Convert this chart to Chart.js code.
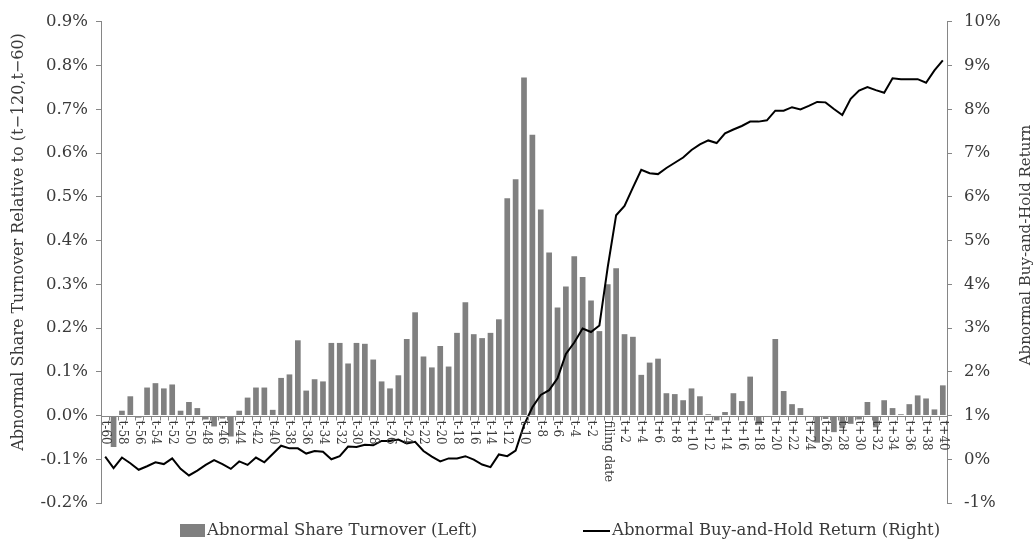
<!DOCTYPE html>
<html>
<head>
<meta charset="utf-8">
<script src="https://cdn.jsdelivr.net/npm/chart.js@4.4.0/dist/chart.umd.min.js"></script>
<style>
html, body { margin: 0; padding: 0; background: #fff; }
</style>
</head>
<body>
<canvas id="turnoverChart" width="1034" height="546"></canvas>
<script>
// days relative to filing date
const categories = [
  't-60','t-59','t-58','t-57','t-56','t-55','t-54','t-53','t-52','t-51',
  't-50','t-49','t-48','t-47','t-46','t-45','t-44','t-43','t-42','t-41',
  't-40','t-39','t-38','t-37','t-36','t-35','t-34','t-33','t-32','t-31',
  't-30','t-29','t-28','t-27','t-26','t-25','t-24','t-23','t-22','t-21',
  't-20','t-19','t-18','t-17','t-16','t-15','t-14','t-13','t-12','t-11',
  't-10','t-9','t-8','t-7','t-6','t-5','t-4','t-3','t-2','t-1',
  'filing date',
  't+1','t+2','t+3','t+4','t+5','t+6','t+7','t+8','t+9','t+10',
  't+11','t+12','t+13','t+14','t+15','t+16','t+17','t+18','t+19','t+20',
  't+21','t+22','t+23','t+24','t+25','t+26','t+27','t+28','t+29','t+30',
  't+31','t+32','t+33','t+34','t+35','t+36','t+37','t+38','t+39','t+40'
];

// abnormal share turnover, % (left axis)
const turnover = [
  0.000, -0.072, 0.011, 0.044, -0.005, 0.064, 0.074, 0.062, 0.071, 0.011,
  0.031, 0.017, -0.009, -0.025, -0.007, -0.048, 0.011, 0.041, 0.064, 0.064,
  0.013, 0.086, 0.094, 0.172, 0.057, 0.083, 0.078, 0.166, 0.166, 0.119,
  0.166, 0.164, 0.128, 0.078, 0.062, 0.092, 0.175, 0.236, 0.135, 0.110,
  0.159, 0.112, 0.189, 0.259, 0.186, 0.177, 0.189, 0.220, 0.497, 0.540,
  0.773, 0.642, 0.471, 0.373, 0.247, 0.295, 0.364, 0.317, 0.263, 0.193,
  0.300,
  0.337, 0.186, 0.180, 0.093, 0.121, 0.130, 0.051, 0.049, 0.035, 0.062,
  0.044, 0.003, -0.011, 0.008, 0.051, 0.033, 0.089, -0.021, 0.000, 0.175,
  0.056, 0.026, 0.017, 0.000, -0.062, -0.008, -0.038, -0.029, -0.019, -0.009,
  0.031, -0.027, 0.035, 0.017, 0.003, 0.026, 0.046, 0.039, 0.014, 0.069
];

// abnormal buy-and-hold return, % (right axis)
const bhReturn = [
  0.06, -0.20, 0.04, -0.09, -0.24, -0.16, -0.07, -0.11, 0.02, -0.22,
  -0.37, -0.26, -0.13, -0.02, -0.11, -0.22, -0.05, -0.13, 0.04, -0.07,
  0.12, 0.31, 0.25, 0.25, 0.13, 0.19, 0.17, 0.00, 0.07, 0.29,
  0.28, 0.33, 0.32, 0.42, 0.42, 0.45, 0.36, 0.40, 0.19, 0.06,
  -0.05, 0.02, 0.02, 0.07, -0.01, -0.12, -0.18, 0.11, 0.07, 0.20,
  0.78, 1.19, 1.47, 1.58, 1.85, 2.41, 2.67, 2.99, 2.91, 3.06,
  4.40,
  5.58, 5.79, 6.21, 6.62, 6.54, 6.52, 6.66, 6.78, 6.90, 7.07,
  7.20, 7.29, 7.23, 7.45, 7.54, 7.62, 7.72, 7.72, 7.75, 7.97,
  7.97, 8.05, 8.00, 8.08, 8.17, 8.16, 8.01, 7.87, 8.24, 8.43,
  8.51, 8.44, 8.38, 8.71, 8.69, 8.69, 8.69, 8.61, 8.89, 9.12
];

const seriesNames = ['Abnormal Share Turnover (Left)', 'Abnormal Buy-and-Hold Return (Right)'];
const leftTitle = 'Abnormal Share Turnover Relative to (t\u2212120,t\u221260)';
const rightTitle = 'Abnormal Buy-and-Hold Return';

const FONT = "'DejaVu Serif', 'Liberation Serif', serif";
const TEXT = '#3a3a3a';
const AXIS = '#868686';
const BAR = '#808080';

// x axis sits on the 0% line, labels read top-to-bottom, titles + legend drawn by hand
const extras = {
  id: 'extras',
  afterDraw(chart) {
    const { ctx, chartArea, scales } = chart;
    const x = scales.x;
    const y0 = Math.round(scales.yLeft.getPixelForValue(0)) + 0.5;
    const step = x.getPixelForValue(1) - x.getPixelForValue(0);

    ctx.save();
    ctx.strokeStyle = AXIS;
    ctx.lineWidth = 1;
    ctx.beginPath();
    ctx.moveTo(chartArea.left, y0);
    ctx.lineTo(chartArea.right, y0);
    for (let i = 0; i <= categories.length; i++) {
      const px = Math.round(x.getPixelForValue(0) - step / 2 + i * step) + 0.5;
      ctx.moveTo(px, y0);
      ctx.lineTo(px, y0 + 4);
    }
    ctx.stroke();

    ctx.fillStyle = TEXT;
    ctx.font = '12px ' + FONT;
    ctx.textAlign = 'left';
    ctx.textBaseline = 'middle';
    categories.forEach((c, i) => {
      if (i % 2) return;
      ctx.save();
      ctx.translate(x.getPixelForValue(i), y0 + 4);
      ctx.rotate(Math.PI / 2);
      ctx.fillText(c, 0, 0);
      ctx.restore();
    });

    // axis titles
    ctx.textAlign = 'center';
    ctx.font = '16px ' + FONT;
    ctx.save();
    ctx.translate(19, 242);
    ctx.rotate(-Math.PI / 2);
    ctx.fillText(leftTitle, 0, 0);
    ctx.restore();
    ctx.font = '15px ' + FONT;
    ctx.save();
    ctx.translate(1026, 245);
    ctx.rotate(-Math.PI / 2);
    ctx.fillText(rightTitle, 0, 0);
    ctx.restore();

    // legend
    ctx.font = '16.5px ' + FONT;
    ctx.textAlign = 'left';
    ctx.fillStyle = BAR;
    ctx.fillRect(180, 524, 25, 13);
    ctx.fillStyle = TEXT;
    ctx.fillText(seriesNames[0], 207, 531);
    ctx.strokeStyle = '#000';
    ctx.lineWidth = 2;
    ctx.beginPath();
    ctx.moveTo(583, 531);
    ctx.lineTo(610, 531);
    ctx.stroke();
    ctx.fillText(seriesNames[1], 612, 531);
    ctx.restore();
  }
};

const ctx = document.getElementById('turnoverChart').getContext('2d');
const chart = new Chart(ctx, {
  type: 'bar',
  data: {
    labels: categories,
    datasets: [
      {
        type: 'line',
        label: seriesNames[1],
        data: bhReturn,
        yAxisID: 'yRight',
        borderColor: '#000',
        borderWidth: 2,
        pointRadius: 0,
        tension: 0,
        order: 0
      },
      {
        type: 'bar',
        label: seriesNames[0],
        data: turnover,
        yAxisID: 'yLeft',
        backgroundColor: BAR,
        categoryPercentage: 1,
        barPercentage: 0.68,
        order: 1
      }
    ]
  },
  options: {
    responsive: false,
    animation: false,
    devicePixelRatio: 1,
    layout: { padding: { top: 15, bottom: 43, left: 0, right: 0 } },
    plugins: {
      legend: { display: false },
      tooltip: { enabled: false }
    },
    scales: {
      x: { display: false, offset: true },
      yLeft: {
        position: 'left',
        min: -0.2,
        max: 0.9,
        ticks: {
          stepSize: 0.1,
          padding: 8,
          color: TEXT,
          font: { family: FONT, size: 16.5 },
          callback: v => (Math.abs(v) < 1e-9 ? 0 : v).toFixed(1) + '%'
        },
        grid: { drawOnChartArea: false, tickLength: 5, color: AXIS },
        border: { color: AXIS },
        afterFit: s => { s.width = 101; }
      },
      yRight: {
        position: 'right',
        min: -1,
        max: 10,
        ticks: {
          stepSize: 1,
          padding: 12,
          color: TEXT,
          font: { family: FONT, size: 16.5 },
          callback: v => Math.round(v) + '%'
        },
        grid: { drawOnChartArea: false, tickLength: 5, color: AXIS },
        border: { color: AXIS },
        afterFit: s => { s.width = 87; }
      }
    }
  },
  plugins: [extras]
});
</script>
</body>
</html>
